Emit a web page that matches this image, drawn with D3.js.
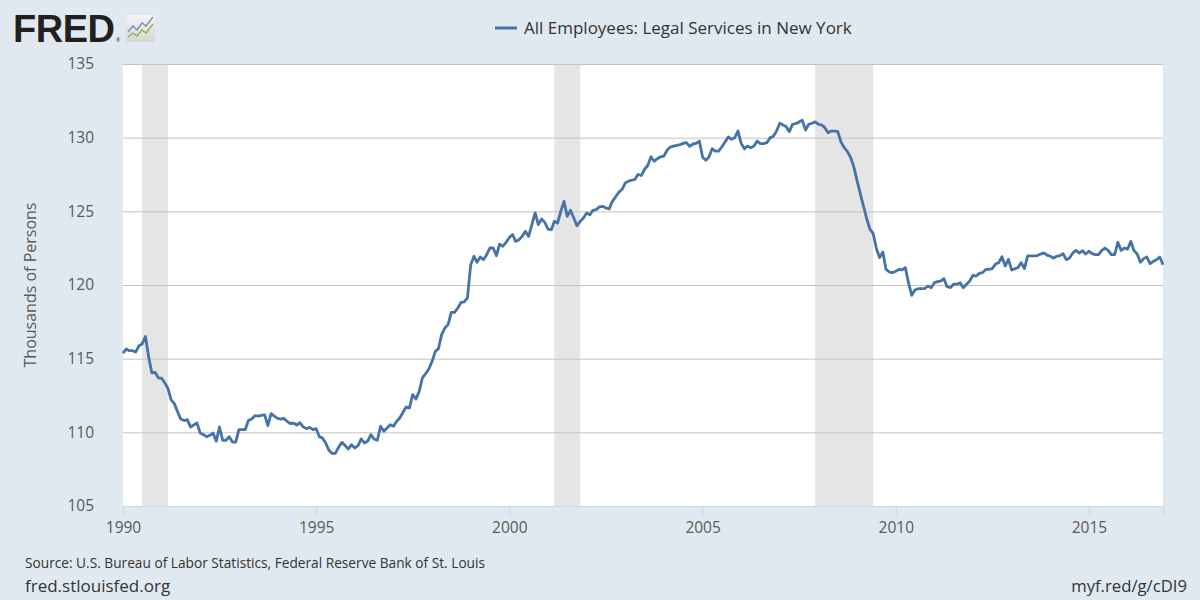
<!DOCTYPE html>
<html>
<head>
<meta charset="utf-8">
<script src="https://cdn.jsdelivr.net/npm/d3@7"></script>
<style>
html,body{margin:0;padding:0;background:#e1e9f0;}
svg{display:block;font-family:"Open Sans",sans-serif;}
</style>
</head>
<body>
<svg id="chart" width="1200" height="600"></svg>
<script>
// ---- data ----
const seriesName = "All Employees: Legal Services in New York";
const startYear = 1990; // monthly from Jan 1990
const values = [
115.38,115.66,115.54,115.54,115.45,115.88,116.0,116.5,115.1,114.03,114.07,113.7,
113.67,113.35,113.0,112.2,111.95,111.4,110.9,110.8,110.86,110.36,110.5,110.63,
109.95,109.84,109.7,109.8,109.95,109.4,110.36,109.46,109.46,109.7,109.34,109.34,
110.18,110.18,110.18,110.8,110.9,111.13,111.1,111.15,111.18,110.45,111.27,111.1,
110.95,110.9,110.95,110.75,110.6,110.63,110.5,110.65,110.37,110.25,110.33,110.18,
110.25,109.69,109.62,109.28,108.79,108.57,108.57,108.98,109.32,109.1,108.87,109.16,
108.94,109.1,109.55,109.28,109.39,109.84,109.55,109.46,110.41,110.07,110.3,110.52,
110.41,110.75,110.97,111.36,111.72,111.65,112.56,112.26,112.78,113.69,113.98,114.3,
114.82,115.5,115.66,116.63,117.08,117.31,118.14,118.14,118.44,118.82,118.85,119.12,
121.38,121.95,121.54,121.9,121.72,122.06,122.51,122.51,121.99,122.77,122.63,122.9,
123.22,123.43,122.96,123.07,123.3,123.64,123.3,124.1,124.89,124.1,124.48,124.25,
123.8,123.75,124.32,124.2,125.0,125.68,124.66,125.07,124.55,124.02,124.32,124.55,
124.89,124.77,125.07,125.11,125.3,125.34,125.23,125.16,125.68,125.98,126.3,126.48,
126.93,127.05,127.11,127.16,127.5,127.43,127.84,128.11,128.7,128.4,128.57,128.7,
128.75,129.16,129.36,129.43,129.48,129.52,129.61,129.66,129.41,129.57,129.61,129.77,
128.67,128.47,128.67,129.25,129.09,129.09,129.36,129.7,130.05,129.89,130.0,130.45,
129.61,129.25,129.43,129.32,129.43,129.77,129.59,129.59,129.66,130.0,130.09,130.45,
130.98,130.86,130.75,130.41,130.91,130.95,131.07,131.18,130.52,130.91,130.98,131.07,
130.91,130.86,130.68,130.34,130.45,130.45,130.43,129.7,129.32,129.05,128.65,128.0,
127.05,126.15,125.38,124.5,123.8,123.5,122.5,121.86,122.24,121.06,120.88,120.84,
120.93,121.06,121.02,121.18,120.16,119.3,119.66,119.75,119.75,119.75,119.93,119.82,
120.16,120.23,120.27,120.43,119.89,119.82,120.05,120.05,120.16,119.82,120.05,120.27,
120.66,120.61,120.79,120.84,121.06,121.06,121.11,121.43,121.52,121.92,121.29,121.74,
121.02,121.11,121.18,121.52,121.11,121.97,121.98,121.98,122.0,122.1,122.18,122.03,
121.95,121.83,121.95,121.99,122.13,121.72,121.83,122.17,122.35,122.17,122.33,122.1,
122.29,122.13,122.06,122.06,122.33,122.51,122.35,122.06,122.06,122.9,122.35,122.51,
122.44,122.96,122.35,122.1,121.54,121.79,121.9,121.45,121.61,121.72,121.9,121.38
];
const recessionStarts = ["1990-07-01","2001-03-01","2007-12-01"];
const recessionEnds   = ["1991-03-01","2001-11-01","2009-06-01"];
const yTicks = [105,110,115,120,125,130,135];
const xTickYears = [1990,1995,2000,2005,2010,2015];
const yTitle = "Thousands of Persons";
const sourceText = "Source: U.S. Bureau of Labor Statistics, Federal Reserve Bank of St. Louis";
const leftFoot = "fred.stlouisfed.org";
const rightFoot = "myf.red/g/cDI9";

// ---- build ----
const data = values.map((v,i)=>({date:new Date(startYear, i, 1), value:v}));
const svg = d3.select("#chart");
const L=123, R=1163, T=64, B=506;
const x = d3.scaleTime().domain([data[0].date, data[data.length-1].date]).range([L,R]);
const y = d3.scaleLinear().domain([105,135]).range([B,T]);

svg.append("rect").attr("width",1200).attr("height",600).attr("fill","#e1e9f0");
svg.append("rect").attr("x",L).attr("y",T).attr("width",R-L).attr("height",B-T).attr("fill","#ffffff");

// recession bands
const parse = d3.timeParse("%Y-%m-%d");
svg.append("g").selectAll("rect").data(recessionStarts.map((s,i)=>[parse(s),parse(recessionEnds[i])]))
  .join("rect")
  .attr("x",d=>x(d[0])).attr("width",d=>x(d[1])-x(d[0]))
  .attr("y",T).attr("height",B-T).attr("fill","#e5e5e5");

// grid
const gy = svg.append("g").attr("transform",`translate(${L},0)`)
  .call(d3.axisLeft(y).tickValues(yTicks).tickSize(-(R-L)).tickFormat(""));
gy.select(".domain").remove();
gy.selectAll("line").attr("stroke","#c4c4c4").attr("stroke-width",1);

// y labels
svg.append("g").selectAll("text").data(yTicks).join("text")
  .attr("x",94).attr("y",d=>y(d)).attr("dy","0.35em").attr("text-anchor","end")
  .attr("font-size",15.5).attr("fill","#595959").text(d=>d);

// x axis
const gx = svg.append("g").attr("transform",`translate(0,${B})`)
  .call(d3.axisBottom(x).tickValues(xTickYears.map(yy=>new Date(yy,0,1))).tickSize(10).tickFormat(d3.timeFormat("%Y")).tickPadding(6));
gx.select(".domain").attr("stroke","#ccd6eb");
gx.selectAll(".tick line").attr("stroke","#ccd6eb");
gx.selectAll(".tick text").attr("font-size",15.5).attr("fill","#595959").attr("font-family","Open Sans");

// y title
svg.append("text").attr("transform",`translate(36,${(T+B)/2}) rotate(-90)`)
  .attr("text-anchor","middle").attr("font-size",16).attr("fill","#595959").text(yTitle);

// line
svg.append("path").datum(data)
  .attr("fill","none").attr("stroke","#4572a7").attr("stroke-width",2.8).attr("stroke-linejoin","round")
  .attr("d",d3.line().x(d=>x(d.date)).y(d=>y(d.value)));

// legend
svg.append("line").attr("x1",495).attr("x2",517).attr("y1",28).attr("y2",28).attr("stroke","#4572a7").attr("stroke-width",3);
svg.append("text").attr("x",524).attr("y",28).attr("dy","0.35em").attr("font-size",17).attr("fill","#333333").text(seriesName);

// footer
svg.append("text").attr("x",25).attr("y",563).attr("dy","0.35em").attr("font-size",13.7).attr("fill","#333333").text(sourceText);
svg.append("text").attr("x",25).attr("y",586).attr("dy","0.35em").attr("font-size",17).attr("fill","#333333").text(leftFoot);
svg.append("text").attr("x",1187).attr("y",586).attr("dy","0.35em").attr("text-anchor","end").attr("font-size",16.7).attr("fill","#333333").text(rightFoot);

// FRED logo
svg.append("text").attr("x",13).attr("y",42).attr("font-family","Liberation Sans, Arial, sans-serif")
  .attr("font-weight","bold").attr("font-size",38).attr("fill","#231f20").attr("letter-spacing",-0.5).text("FRED");
svg.append("text").attr("x",116).attr("y",42).attr("font-size",5).attr("fill","#231f20").text("®");
const defs = svg.append("defs");
const grad = defs.append("linearGradient").attr("id","lg").attr("x1",0).attr("y1",0).attr("x2",0).attr("y2",1);
grad.append("stop").attr("offset","0%").attr("stop-color","#f4f4f4");
grad.append("stop").attr("offset","100%").attr("stop-color","#d6d6d6");
svg.append("rect").attr("x",126).attr("y",15).attr("width",29).attr("height",27).attr("rx",2).attr("fill","url(#lg)");
svg.append("polyline").attr("points","128,32 133,26 137,30 142,23 146,26 153,17")
  .attr("fill","none").attr("stroke","#6f8fb5").attr("stroke-width",1.3);
svg.append("polyline").attr("points","128,37 133,33 137,36 142,30 146,33 153,24")
  .attr("fill","none").attr("stroke","#8cb04a").attr("stroke-width",1.3);
</script>
</body>
</html>
